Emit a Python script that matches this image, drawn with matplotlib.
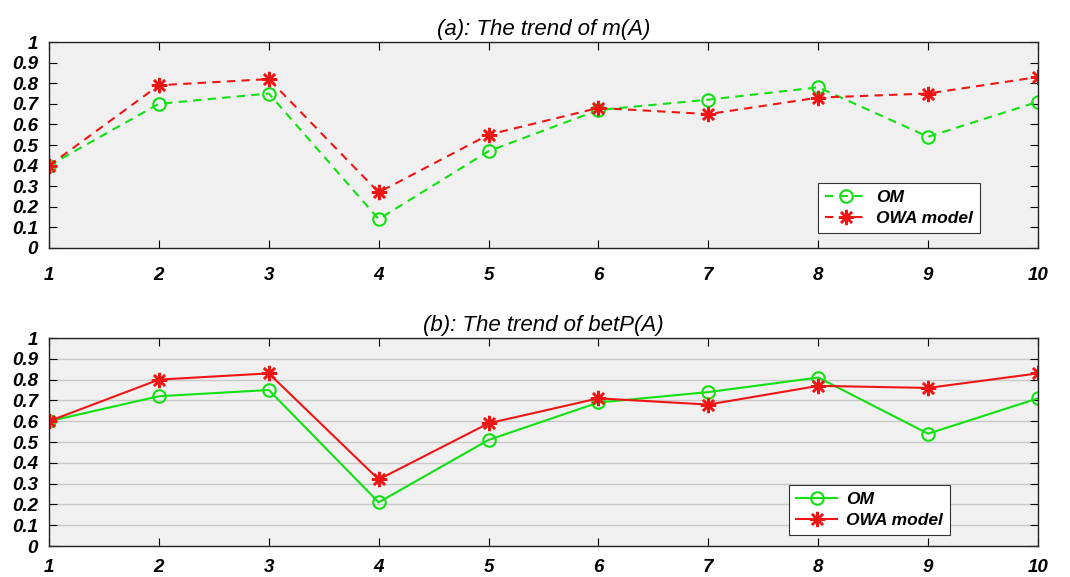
import numpy as np
import matplotlib
matplotlib.use("Agg")
import matplotlib.pyplot as plt

plt.rcParams['font.family'] = ['Liberation Sans', 'DejaVu Sans']

x = [1, 2, 3, 4, 5, 6, 7, 8, 9, 10]
# (a) m(A)
m_om = [0.40, 0.70, 0.75, 0.14, 0.47, 0.67, 0.72, 0.78, 0.54, 0.71]
m_owa = [0.40, 0.79, 0.82, 0.27, 0.55, 0.68, 0.65, 0.73, 0.75, 0.83]
# (b) betP(A)
b_om = [0.60, 0.72, 0.75, 0.21, 0.51, 0.69, 0.74, 0.81, 0.54, 0.71]
b_owa = [0.60, 0.80, 0.83, 0.32, 0.59, 0.71, 0.68, 0.77, 0.76, 0.83]

yticks = np.round(np.arange(0, 1.01, 0.1), 1)
ytick_labels = ['0'] + ['%.1f' % v for v in yticks[1:-1]] + ['1']

green = '#11e011'
red = '#f01515'

fig = plt.figure(figsize=(10.7, 5.77), dpi=100)
ax1 = fig.add_axes([0.0458, 0.5702, 0.9243, 0.357])
ax2 = fig.add_axes([0.0458, 0.0537, 0.9243, 0.3605])

star = (8, 2, 0)

def style(ax, title, legend_anchor, xpad):
    ax.set_facecolor('#f0f0f0')
    ax.set_xlim(1, 10)
    ax.set_ylim(0, 1)
    ax.set_xticks(x)
    ax.set_yticks(yticks)
    ax.set_yticklabels(ytick_labels)
    ax.tick_params(direction='in', top=True, right=True, length=6, width=0.8,
                   labelsize=13.5)
    ax.tick_params(axis='x', pad=xpad)
    ax.tick_params(axis='y', pad=8)
    for lab in ax.get_xticklabels() + ax.get_yticklabels():
        lab.set_fontweight('bold')
        lab.set_fontstyle('italic')
    for s in ax.spines.values():
        s.set_linewidth(1.0)
        s.set_color('#222222')
    ax.set_title(title, fontsize=16, fontstyle='italic', pad=5)
    leg = ax.legend(loc='lower left', bbox_to_anchor=legend_anchor, fancybox=False,
                    framealpha=1, edgecolor='#333333', handlelength=2.4,
                    handletextpad=0.5,
                    prop={'weight': 'bold', 'style': 'italic', 'size': 12.5},
                    borderpad=0.4, labelspacing=0.35, borderaxespad=0)
    leg.get_frame().set_linewidth(0.8)

ax1.plot(x, m_om, color=green, ls='--', lw=1.5, marker='o', ms=9,
         mfc='none', mec=green, mew=1.5, label='OM', dashes=(4, 3))
ax1.plot(x, m_owa, color=red, ls='--', lw=1.5, marker=star, ms=11,
         mec=red, mew=1.8, label='OWA model', dashes=(4, 3))
style(ax1, '(a): The trend of m(A)', (0.778, 0.073), 14)

ax2.plot(x, b_om, color=green, lw=1.5, marker='o', ms=9,
         mfc='none', mec=green, mew=1.5, label='OM')
ax2.plot(x, b_owa, color=red, lw=1.5, marker=star, ms=11,
         mec=red, mew=1.8, label='OWA model')
ax2.yaxis.grid(True, color='#c8c8c8', lw=1.0)
ax2.set_axisbelow(True)
style(ax2, '(b): The trend of betP(A)', (0.748, 0.053), 9)

fig.savefig('out.png', dpi=100)
